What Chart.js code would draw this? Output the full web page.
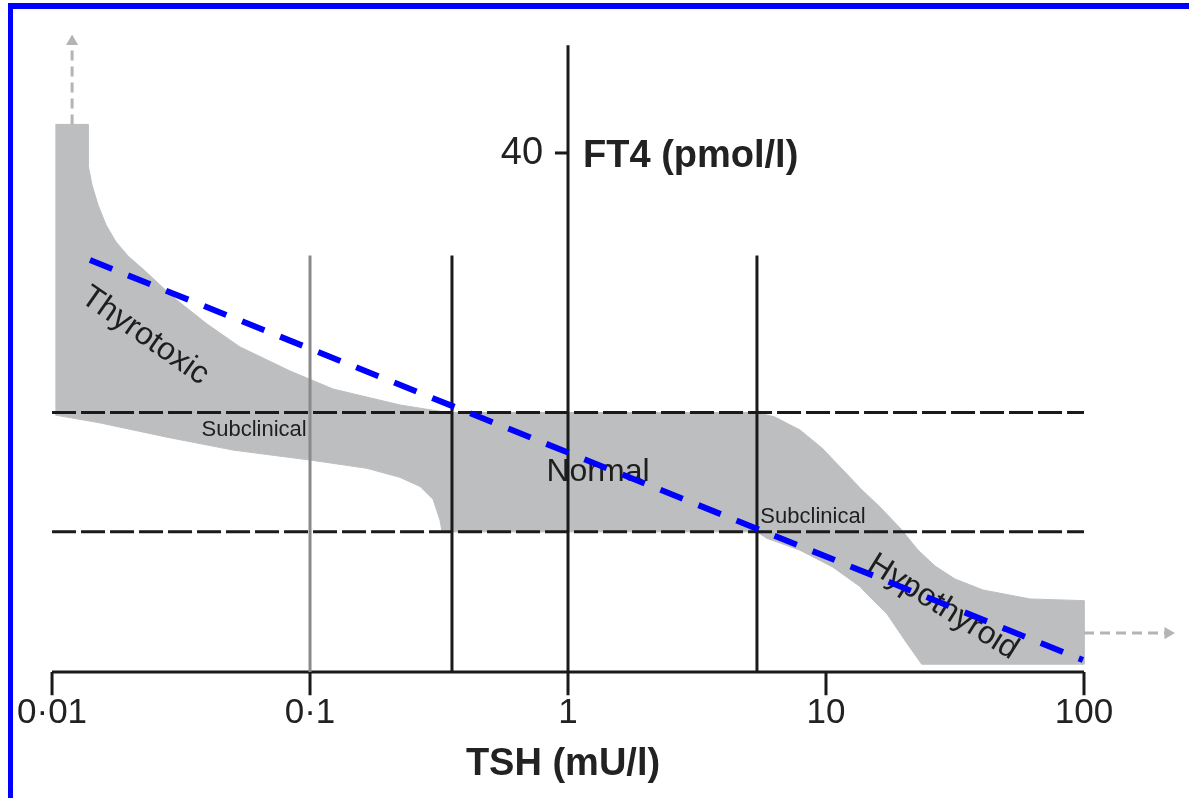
<!DOCTYPE html>
<html>
<head>
<meta charset="utf-8">
<script src="https://cdn.jsdelivr.net/npm/chart.js@4"></script>
<style>
  body { margin: 0; background: #fff; }
  #wrap { position: relative; width: 1189px; height: 798px; overflow: hidden; }
  #frame { position: absolute; left: 8px; top: 3px; width: 1300px; height: 900px;
           border-top: 6px solid #0000ff; border-left: 5px solid #0000ff; pointer-events: none; }
</style>
</head>
<body>
<div id="wrap">
  <canvas id="grafico"></canvas>
  <div id="frame"></div>
</div>
<script>
// eje TSH (log) y FT4
const tshTicks = [0.01, 0.1, 1, 10, 100];
const tshTickLabels = ["0·01", "0·1", "1", "10", "100"];
const ft4Ticks = [40];
const ft4TickLabels = ["40"];
const ft4AxisTop = 48.3;

// rango normal de FT4 (lineas discontinuas) y cortes de TSH
const normalFt4 = [10.8, 20];
const tshCuts = [0.1, 0.355, 5.4];
const cutTop = 32.1;

// banda gris (contorno cerrado)
const bandTsh = [0.0103, 0.0138, 0.0138, 0.01429, 0.01508, 0.0162, 0.01771, 0.01971, 0.02294,
  0.02944, 0.03989, 0.05355, 0.08366, 0.1228, 0.2233, 0.34,
  5.4, 6.34, 7.93, 9.65, 11.64, 13.79, 16.19, 19.36, 22.73, 26.46, 31.62, 40.6, 61.75, 100,
  100, 23.5, 20.6, 17.2, 15.2, 13.5, 10.6, 7.9, 5.9, 5.4,
  0.325, 0.319, 0.30, 0.267, 0.223, 0.166, 0.103, 0.0504, 0.0279, 0.0153, 0.0103];
const bandFt4 = [42.2, 42.2, 39.08, 37.53, 35.99, 34.45, 33.14, 32.06, 30.91,
  28.9, 26.82, 25.05, 23.2, 21.81, 20.58, 20.0,
  20.0, 19.65, 18.65, 17.26, 15.57, 14.03, 12.72, 11.1, 9.4, 8.17, 7.17, 6.32, 5.63, 5.5,
  0.6, 0.6, 2.2, 4.5, 5.55, 6.6, 8.1, 9.4, 10.3, 10.8,
  10.8, 11.7, 13.3, 14.3, 15.0, 15.7, 16.3, 17.1, 18.1, 19.2, 19.8];

// linea azul
const trendTsh = [0.01403, 99.1];
const trendFt4 = [31.75, 0.92];

// flechas
const arrowUpTsh = [0.01196, 0.01196];
const arrowUpFt4 = [42.2, 48.6];
const arrowRightTsh = [100, 211.6];
const arrowRightFt4 = [3.0, 3.0];

// etiquetas de regiones
const regionLabels = ["Thyrotoxic", "Subclinical", "Normal", "Subclinical", "Hypothyroid"];
const regionTsh = [0.0229, 0.0607, 1.307, 8.9, 28.4];
const regionFt4 = [25.9, 18.65, 15.4, 11.95, 5.0];

function seg(xs, ys, extra) {
  return Object.assign({
    data: xs.map((x, i) => ({ x: x, y: ys[i] })),
    showLine: true,
    pointRadius: 0,
    fill: false,
    tension: 0,
    borderColor: "#1a1a1a",
    borderWidth: 3,
    order: 5,
  }, extra);
}

const datasets = [];
datasets.push(seg(bandTsh, bandFt4, {
  backgroundColor: "#bdbec0", borderColor: "#bdbec0", borderWidth: 1, fill: "shape", order: 10,
}));
normalFt4.forEach((v) => datasets.push(seg([0.01, 100], [v, v], { borderDash: [24, 5] })));
tshCuts.forEach((c, i) => datasets.push(seg([c, c], [0, cutTop], {
  borderColor: i === 0 ? "#8a8a8a" : "#1a1a1a",
})));
datasets.push(seg([1, 1], [0, ft4AxisTop]));
ft4Ticks.forEach((t) => datasets.push(seg([0.89, 1], [t, t])));
datasets.push(seg([0.01, 100], [0, 0]));
tshTicks.forEach((t) => datasets.push(seg([t, t], [0, -1.8])));
datasets.push(seg(trendTsh, trendFt4, {
  borderColor: "#0000ff", borderWidth: 6, borderDash: [24, 17], order: 0,
}));
datasets.push(seg(arrowUpTsh, arrowUpFt4, {
  borderColor: "#b4b4b4", borderDash: [10, 6], pointRadius: [0, 7], pointStyle: "triangle",
  pointRotation: 0, pointBackgroundColor: "#b4b4b4", pointBorderWidth: 0, order: 1,
}));
datasets.push(seg(arrowRightTsh, arrowRightFt4, {
  borderColor: "#b4b4b4", borderDash: [10, 6], pointRadius: [0, 7], pointStyle: "triangle",
  pointRotation: 90, pointBackgroundColor: "#b4b4b4", pointBorderWidth: 0, order: 1,
}));

const regionAngles = [35, 0, 0, 0, 32];
const regionSizes = [32, 22, 32, 22, 32];

const textos = {
  id: "textos",
  afterDatasetDraw(chart, args) {
    if (args.index !== 0) return;
    const ctx = chart.ctx, x = chart.scales.x, y = chart.scales.y;
    ctx.save();
    ctx.fillStyle = "#1e1e1e";
    ctx.textAlign = "center";
    ctx.textBaseline = "middle";
    regionLabels.forEach((t, i) => {
      ctx.save();
      ctx.translate(x.getPixelForValue(regionTsh[i]), y.getPixelForValue(regionFt4[i]));
      ctx.rotate(regionAngles[i] * Math.PI / 180);
      ctx.font = regionSizes[i] + "px 'Liberation Sans', Arial, sans-serif";
      ctx.fillText(t, 0, 0);
      ctx.restore();
    });
    ctx.restore();
  },
  afterDraw(chart) {
    const ctx = chart.ctx, x = chart.scales.x, y = chart.scales.y;
    const base = y.getPixelForValue(0);
    const axisX = x.getPixelForValue(1);
    ctx.save();
    ctx.fillStyle = "#222";
    ctx.textBaseline = "middle";
    ctx.textAlign = "center";
    ctx.font = "35px 'Liberation Sans', Arial, sans-serif";
    tshTicks.forEach((t, i) => ctx.fillText(tshTickLabels[i], x.getPixelForValue(t), base + 41));
    ctx.font = "bold 38px 'Liberation Sans', Arial, sans-serif";
    ctx.fillText("TSH (mU/l)", axisX - 5, base + 93);
    ctx.textAlign = "right";
    ctx.font = "38px 'Liberation Sans', Arial, sans-serif";
    ft4Ticks.forEach((t, i) => ctx.fillText(ft4TickLabels[i], axisX - 25, y.getPixelForValue(t) + 1));
    ctx.textAlign = "left";
    ctx.font = "bold 38px 'Liberation Sans', Arial, sans-serif";
    ctx.fillText("FT4 (pmol/l)", axisX + 15, y.getPixelForValue(ft4Ticks[0]) + 4);
    ctx.restore();
  },
};

new Chart(document.getElementById("grafico"), {
  type: "scatter",
  data: { datasets: datasets },
  options: {
    responsive: true,
    maintainAspectRatio: false,
    animation: false,
    events: [],
    layout: { padding: 0, autoPadding: false },
    plugins: { legend: { display: false }, tooltip: { enabled: false } },
    scales: {
      x: { type: "logarithmic", min: 0.0062850, max: 255.3, display: false },
      y: { type: "linear", min: -9.711, max: 51.79, display: false },
    },
  },
  plugins: [textos],
});
</script>
</body>
</html>
